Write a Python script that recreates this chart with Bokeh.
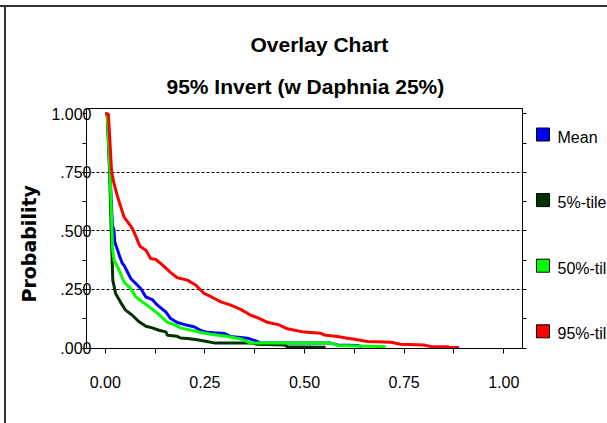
from bokeh.plotting import figure
from bokeh.layouts import row, column
from bokeh.models import (Range1d, LinearAxis, FixedTicker, Title, Spacer,
                          CustomJSTickFormatter, ColumnDataSource)
from bokeh.core.properties import value
from bokeh.embed import file_html
from bokeh.resources import INLINE

# ---- data ----
series_names = ["Mean", "5%-tile", "50%-tile", "95%-tile"]
series_colors = ["#0000FF", "#003300", "#00FF00", "#FF0000"]

mean_x = [0.000, 0.005, 0.012, 0.018, 0.022, 0.024, 0.031, 0.035, 0.043, 0.047, 0.060, 0.064,
          0.081, 0.089, 0.102, 0.118, 0.131, 0.152, 0.164, 0.181, 0.206, 0.223, 0.240, 0.256,
          0.273, 0.300, 0.315, 0.357, 0.382, 0.390, 0.566, 0.583, 0.633, 0.645]
mean_y = [1.000, 1.000, 0.750, 0.525, 0.503, 0.453, 0.418, 0.397, 0.361, 0.354, 0.311, 0.297,
          0.268, 0.254, 0.218, 0.207, 0.183, 0.154, 0.126, 0.109, 0.097, 0.091, 0.075, 0.067,
          0.065, 0.062, 0.049, 0.042, 0.028, 0.021, 0.021, 0.013, 0.011, 0.006]

p5_x = [0.000, 0.005, 0.011, 0.015, 0.019, 0.026, 0.039, 0.051, 0.068, 0.085, 0.102, 0.118,
        0.135, 0.152, 0.156, 0.181, 0.189, 0.206, 0.227, 0.248, 0.273, 0.365, 0.382, 0.449,
        0.457, 0.553]
p5_y = [1.000, 1.000, 0.750, 0.500, 0.290, 0.233, 0.194, 0.162, 0.140, 0.112, 0.093, 0.086,
        0.076, 0.069, 0.055, 0.050, 0.043, 0.041, 0.036, 0.030, 0.022, 0.021, 0.016, 0.013,
        0.006, 0.003]

p50_x = [0.000, 0.005, 0.012, 0.017, 0.018, 0.022, 0.035, 0.047, 0.064, 0.077, 0.093, 0.110,
         0.130, 0.156, 0.173, 0.189, 0.215, 0.240, 0.265, 0.307, 0.340, 0.365, 0.566, 0.583,
         0.704]
p50_y = [1.000, 1.000, 0.750, 0.500, 0.432, 0.375, 0.332, 0.282, 0.254, 0.218, 0.197, 0.176,
         0.150, 0.110, 0.100, 0.086, 0.076, 0.066, 0.059, 0.049, 0.039, 0.021, 0.021, 0.011,
         0.006]

p95_x = [0.000, 0.008, 0.016, 0.022, 0.031, 0.047, 0.068, 0.072, 0.087, 0.102, 0.114, 0.127,
         0.144, 0.165, 0.181, 0.206, 0.227, 0.248, 0.269, 0.290, 0.315, 0.340, 0.365, 0.382,
         0.407, 0.436, 0.457, 0.499, 0.541, 0.549, 0.583, 0.608, 0.629, 0.658, 0.716, 0.741,
         0.800, 0.817, 0.859, 0.863, 0.888]
p95_y = [1.000, 1.000, 0.751, 0.703, 0.646, 0.560, 0.511, 0.496, 0.435, 0.418, 0.382, 0.378,
         0.354, 0.321, 0.300, 0.290, 0.269, 0.233, 0.216, 0.197, 0.183, 0.165, 0.140, 0.130,
         0.110, 0.099, 0.082, 0.068, 0.063, 0.056, 0.049, 0.042, 0.036, 0.028, 0.025, 0.016,
         0.013, 0.006, 0.006, 0.002, 0.002]

x_ticks = [0.0, 0.25, 0.5, 0.75, 1.0]
x_minor = [0.125, 0.375, 0.625, 0.875]
y_ticks = [0.0, 0.25, 0.5, 0.75, 1.0]
y_minor = [0.125, 0.375, 0.625, 0.875]
grid_levels = [0.25, 0.5, 0.75]

title_text = "Overlay Chart"
subtitle_text = "95% Invert (w  Daphnia 25%)"
ylabel_text = "Probability"

FONT = "Liberation Sans"
FRAME_COLOR = "#333333"
BORDER_TOP, BORDER_BOTTOM = 101, 75
CANVAS_TOP, CANVAS_H = 7, 416

# ---- main chart ----
p = figure(width=524, height=CANVAS_H, output_backend="svg", toolbar_location=None,
           x_range=Range1d(-0.047, 1.047), y_range=Range1d(-0.002, 1.023),
           min_border_left=80, min_border_right=8,
           min_border_top=BORDER_TOP, min_border_bottom=BORDER_BOTTOM,
           background_fill_color="white", border_fill_color="white")

p.outline_line_color = "black"
p.outline_line_width = 1

# titles (p.title is the outer one, the added Title sits next to the frame)
p.title.text = title_text
p.title.text_font = FONT
p.title.text_font_size = "21px"
p.title.text_font_style = "bold"
p.title.text_color = "black"
p.title.align = "left"
p.title.offset = 164
p.title.standoff = 14
p.add_layout(Title(text=subtitle_text, text_font=FONT, text_font_size="21px",
                   text_font_style="bold", text_color="black",
                   align="left", offset=80, standoff=21), "above")

# y label as a side title
p.add_layout(Title(text=ylabel_text, text_font="DejaVu Sans", text_font_size="19px",
                   text_font_style="bold", text_color="black",
                   align="left", offset=46, standoff=17), "left")

# axes
xa = p.xaxis[0]
xa.ticker = FixedTicker(ticks=x_ticks, minor_ticks=x_minor)
xa.formatter = CustomJSTickFormatter(code="return tick.toFixed(2);")
xa.major_tick_out = 5
xa.major_tick_in = 0
xa.minor_tick_out = 5
xa.minor_tick_in = 0
xa.major_label_standoff = 22
xa.major_label_text_font = FONT
xa.major_label_text_font_size = "16px"
xa.major_label_text_color = "black"
xa.axis_line_color = "black"

ya = p.yaxis[0]
ya.ticker = FixedTicker(ticks=y_ticks, minor_ticks=y_minor)
ya.formatter = CustomJSTickFormatter(
    code="var s = tick.toFixed(3); return tick < 1 ? s.replace(/^0/, '') : s;")
ya.major_tick_out = 4
ya.major_tick_in = 0
ya.minor_tick_out = 4
ya.minor_tick_in = 0
ya.major_label_standoff = -9
ya.major_label_text_font = FONT
ya.major_label_text_font_size = "16px"
ya.major_label_text_color = "black"
ya.axis_line_color = "black"

ra = LinearAxis(ticker=FixedTicker(ticks=sorted(y_ticks + y_minor)),
                formatter=CustomJSTickFormatter(code="return '';"),
                major_tick_out=4, major_tick_in=0, minor_tick_out=0, minor_tick_in=0,
                major_label_standoff=0, axis_line_color="black")
p.add_layout(ra, "right")

# grid
p.xgrid.visible = False
p.ygrid.ticker = FixedTicker(ticks=grid_levels)
p.ygrid.grid_line_color = "black"
p.ygrid.grid_line_dash = "3 2"
p.ygrid.grid_line_width = 1

# curves
curves = [(mean_x, mean_y), (p5_x, p5_y), (p50_x, p50_y), (p95_x, p95_y)]
for (xs, ys), c in zip(curves, series_colors):
    p.line(xs, ys, line_color=c, line_width=3)

# ---- legend panel (its own small canvas; its frame lines up with the chart frame,
#      and its ranges are in page pixels) ----
LEG_X0, LEG_X1 = 530, 607
frame_top = CANVAS_TOP + BORDER_TOP
frame_bottom = CANVAS_TOP + CANVAS_H - BORDER_BOTTOM
leg = figure(width=LEG_X1 - LEG_X0, height=CANVAS_H, output_backend="svg",
             toolbar_location=None, x_axis_location=None, y_axis_location=None,
             x_range=Range1d(LEG_X0, LEG_X1), y_range=Range1d(frame_bottom, frame_top),
             min_border_left=0, min_border_right=0,
             min_border_top=BORDER_TOP, min_border_bottom=BORDER_BOTTOM,
             background_fill_color="white", border_fill_color="white")
leg.outline_line_color = None
leg.grid.visible = False

first_center, pitch = 134.0, 65.6
centers = [first_center + pitch * i for i in range(len(series_names))]
leg_src = ColumnDataSource(dict(
    left=[536] * len(centers), right=[549] * len(centers),
    top=[c - 6.5 for c in centers], bottom=[c + 6.5 for c in centers],
    color=series_colors, name=series_names,
    tx=[557] * len(centers), ty=[c + 2.5 for c in centers]))
leg.quad(left="left", right="right", top="top", bottom="bottom", source=leg_src,
         fill_color="color", line_color="black", line_width=1)
leg.text(x="tx", y="ty", text="name", source=leg_src, text_font=value(FONT),
         text_font_size="16px", text_baseline="middle", text_align="left",
         text_color="black")

# ---- page frame lines (top and left) ----
top_gap = Spacer(width=607, height=5)
top_line = Spacer(width=607, height=2, styles={"background-color": FRAME_COLOR})
left_gap = Spacer(width=4, height=CANVAS_H)
left_line = Spacer(width=2, height=CANVAS_H, styles={"background-color": FRAME_COLOR})

layout = column(top_gap, top_line, row(left_gap, left_line, p, leg))

open("out.html", "w").write(file_html(layout, INLINE))
